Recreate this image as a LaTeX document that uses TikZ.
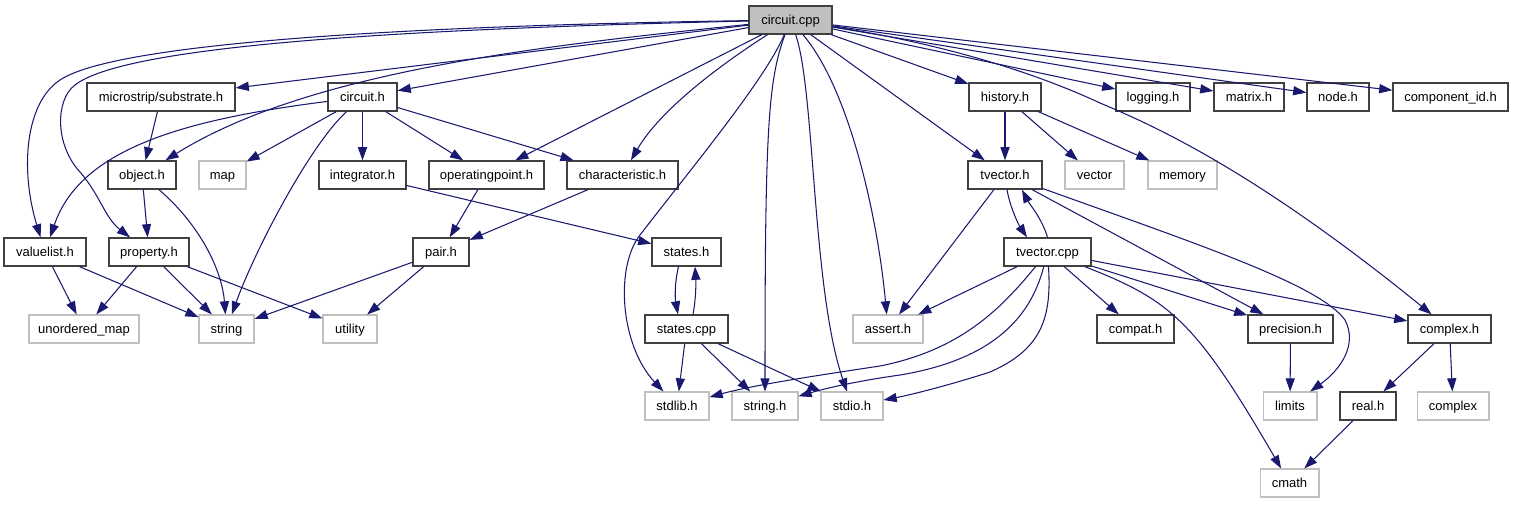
\documentclass[tikz,border=0pt]{standalone}
\usepackage{fontspec}
\setmainfont{Liberation Sans}
\usetikzlibrary{arrows.meta}
\definecolor{edgeblue}{HTML}{191970}
\definecolor{boxgray}{HTML}{BFBFBF}
\definecolor{framegray}{HTML}{404040}

\begin{document}
\begin{tikzpicture}[
		x=0.02cm, y=-0.02cm,
		font=\fontsize{7.4}{9}\selectfont,
		hdr/.style={draw=framegray, line width=0.75pt, minimum height=0.56cm, inner xsep=0pt, inner ysep=0pt, text height=0.75em, text depth=0.2em},
		sys/.style={draw=boxgray, line width=0.6pt, minimum height=0.56cm, inner xsep=0pt, inner ysep=0pt, text height=0.75em, text depth=0.2em},
		dep/.style={edgeblue, line width=0.6pt, -{Triangle[length=7.5pt,width=5.2pt]}}
		]
		\useasboundingbox (0,0) rectangle (1513,504);
		
		% root
		\node[hdr, fill=boxgray, minimum width=1.66cm] (cpp) at (790.5,20) {circuit.cpp};
		
		% second row
		\node[hdr, minimum width=2.96cm] (substrate) at (161,97) {microstrip/substrate.h};
		\node[hdr, minimum width=1.38cm] (circh) at (362.5,97) {circuit.h};
		\node[hdr, minimum width=1.44cm] (history) at (1005,97) {history.h};
		\node[hdr, minimum width=1.48cm] (logging) at (1153,97) {logging.h};
		\node[hdr, minimum width=1.40cm] (matrix) at (1249,97) {matrix.h};
		\node[hdr, minimum width=1.24cm] (nodeh) at (1338,97) {node.h};
		\node[hdr, minimum width=2.30cm] (compid) at (1450.5,97) {component\_id.h};
		
		% third row
		\node[hdr, minimum width=1.36cm] (object) at (142,175) {object.h};
		\node[sys, minimum width=0.94cm] (map) at (222.5,175) {map};
		\node[hdr, minimum width=1.74cm] (integrator) at (362.5,175) {integrator.h};
		\node[hdr, minimum width=2.30cm] (oppoint) at (486.5,175) {operatingpoint.h};
		\node[hdr, minimum width=2.22cm] (charac) at (622.5,175) {characteristic.h};
		\node[hdr, minimum width=1.48cm] (tvech) at (1005,175) {tvector.h};
		\node[sys, minimum width=1.18cm] (vector) at (1094.5,175) {vector};
		\node[sys, minimum width=1.38cm] (memory) at (1182.5,175) {memory};
		
		% fourth row
		\node[hdr, minimum width=1.64cm] (valuelist) at (45,252) {valuelist.h};
		\node[hdr, minimum width=1.60cm] (property) at (149,252) {property.h};
		\node[hdr, minimum width=1.12cm] (pair) at (441,252) {pair.h};
		\node[hdr, minimum width=1.38cm] (statesh) at (686.5,252) {states.h};
		\node[hdr, minimum width=1.74cm] (tveccpp) at (1047.5,252) {tvector.cpp};
		
		% fifth row
		\node[sys, minimum width=2.20cm] (umap) at (84,329) {unordered\_map};
		\node[sys, minimum width=1.10cm] (string) at (226.5,329) {string};
		\node[sys, minimum width=1.08cm] (utility) at (350,329) {utility};
		\node[hdr, minimum width=1.66cm] (statescpp) at (686.5,329) {states.cpp};
		\node[sys, minimum width=1.40cm] (asserth) at (888,329) {assert.h};
		\node[hdr, minimum width=1.54cm] (compat) at (1135.5,329) {compat.h};
		\node[hdr, minimum width=1.70cm] (precision) at (1290.5,329) {precision.h};
		\node[hdr, minimum width=1.66cm] (complexh) at (1449.5,329) {complex.h};
		
		% sixth and last row
		\node[sys, minimum width=1.28cm] (stdlib) at (677,406) {stdlib.h};
		\node[sys, minimum width=1.32cm] (stringh) at (765,406) {string.h};
		\node[sys, minimum width=1.24cm] (stdio) at (852,406) {stdio.h};
		\node[sys, minimum width=1.08cm] (limits) at (1290,406) {limits};
		\node[hdr, minimum width=1.12cm] (realh) at (1368,406) {real.h};
		\node[sys, minimum width=1.44cm] (complex) at (1453,406) {complex};
		\node[sys, minimum width=1.18cm] (cmath) at (1289.5,483) {cmath};
		
		% straight includes
		\foreach \a/\b in {cpp/substrate, cpp/circh, cpp/oppoint, cpp/tvech, cpp/history,
			cpp/logging, cpp/matrix, cpp/nodeh, cpp/compid, substrate/object, circh/map,
			circh/integrator, circh/oppoint, circh/charac, object/property, integrator/statesh,
			oppoint/pair, charac/pair, valuelist/umap, valuelist/string, property/umap,
			property/string, property/utility, pair/string, pair/utility, statescpp/stdlib,
			statescpp/stringh, statescpp/stdio, history/tvech, history/vector, history/memory,
			tvech/asserth, tvech/precision, tveccpp/asserth, tveccpp/compat, tveccpp/precision,
			tveccpp/complexh, precision/limits, complexh/realh, complexh/complex, realh/cmath} {
			\draw[dep] (\a) -- (\b);
		}
		
		% curved includes from circuit.cpp
		\draw[dep] (cpp) .. controls (450,25) and (120,40) .. (60,80)
			.. controls (25,103) and (20,170) .. (valuelist);
		\draw[dep] (cpp) .. controls (450,28) and (130,42) .. (75,85)
			.. controls (55,100) and (55,145) .. (80,172)
			.. controls (100,195) and (105,218) .. (property);
		\draw[dep] (cpp) .. controls (550,45) and (310,70) .. (object);
		\draw[dep] (cpp) .. controls (720,65) and (660,110) .. (charac);
		\draw[dep] (cpp) .. controls (765,80) and (690,170) .. (640,235)
			.. controls (615,267) and (620,345) .. (stdlib);
		\draw[dep] (cpp) .. controls (768,80) and (765,130) .. (stringh);
		\draw[dep] (cpp) .. controls (815,90) and (812,290) .. (stdio);
		\draw[dep] (cpp) .. controls (850,90) and (878,220) .. (asserth);
		\draw[dep] (cpp) .. controls (950,45) and (1040,75) .. (1100,103)
			.. controls (1160,128) and (1260,175) .. (complexh);
		
		% other curved includes
		\draw[dep] (circh) .. controls (180,120) and (80,150) .. (valuelist);
		\draw[dep] (circh) .. controls (310,145) and (255,250) .. (string);
		\draw[dep] (object) .. controls (200,225) and (222,270) .. (string);
		\draw[dep] ([xshift=-0.16cm]statesh.south) .. controls +(-4,16) and +(-3,-16) .. ([xshift=-0.17cm]statescpp.north);
		\draw[dep] ([xshift=0.13cm]statescpp.north) .. controls +(3,-16) and +(1,16) .. ([xshift=0.17cm]statesh.south);
		\draw[dep] ([xshift=0.04cm]tvech.south) .. controls +(3,18) and +(-8,-12) .. ([xshift=-0.41cm]tveccpp.north);
		\draw[dep] (tveccpp.north) .. controls +(-5,-18) and +(6,12) .. ([xshift=0.34cm]tvech.south);
		\draw[dep] (tvech) .. controls (1200,245) and (1320,285) .. (1345,320)
			.. controls (1358,345) and (1340,370) .. (limits);
		\draw[dep] (tveccpp) .. controls (1000,310) and (960,350) .. (880,366)
			.. controls (800,378) and (750,386) .. (stdlib);
		\draw[dep] (tveccpp) .. controls (1030,320) and (990,360) .. (900,375)
			.. controls (850,382) and (820,390) .. (stringh);
		\draw[dep] (tveccpp) .. controls (1052,320) and (1040,350) .. (990,372)
			.. controls (950,385) and (910,395) .. (stdio);
		\draw[dep] (tveccpp) .. controls (1170,300) and (1195,320) .. (cmath);
		
	\end{tikzpicture}
\end{document}
